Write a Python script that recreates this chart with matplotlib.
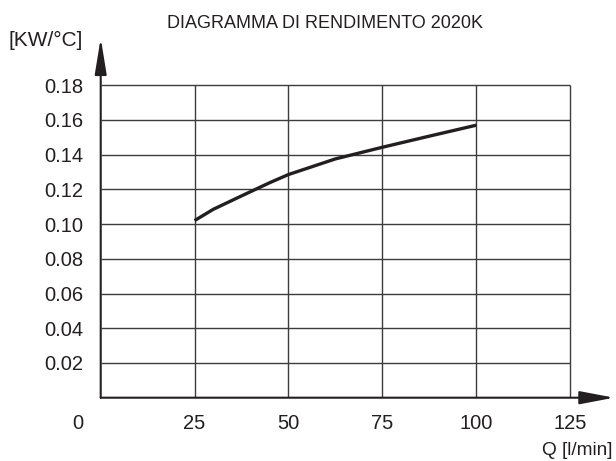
import numpy as np
import matplotlib
matplotlib.use('Agg')
import matplotlib.pyplot as plt

plt.rcParams['font.family'] = ['Liberation Sans', 'DejaVu Sans']

# performance curve
flow = [25, 30, 37.5, 45, 50, 62.5, 75, 87.5, 100]
power = [0.102, 0.1085, 0.1162, 0.1238, 0.1285, 0.1375, 0.1442, 0.1506, 0.1569]

x_ticks = [25, 50, 75, 100, 125]
y_ticks = [0.02, 0.04, 0.06, 0.08, 0.10, 0.12, 0.14, 0.16, 0.18]

ink = '#231f20'
grid_col = '#3c3c3c'
fs = 14.5

fig = plt.figure(figsize=(6.16, 4.61), dpi=100)
ax = fig.add_axes([0.1635, 0.1373, 0.8333, 0.7802])
ax.set_xlim(0, 136.7)
ax.set_ylim(0, 0.2071)
for s in ax.spines.values():
    s.set_visible(False)

# grid box
ax.vlines(x_ticks, 0, y_ticks[-1], color=grid_col, lw=1.0, zorder=1)
ax.hlines(y_ticks, 0, x_ticks[-1], color=grid_col, lw=1.0, zorder=1)

# axes with arrows
ax.annotate('', xy=(0, 0.2071), xytext=(0, 0), xycoords='data',
            arrowprops=dict(arrowstyle='-|>,head_length=22,head_width=3.6',
                            mutation_scale=1, lw=1.5, color=ink,
                            shrinkA=0, shrinkB=0), annotation_clip=False)
ax.annotate('', xy=(136.7, 0), xytext=(0, 0), xycoords='data',
            arrowprops=dict(arrowstyle='-|>,head_length=21,head_width=4.0',
                            mutation_scale=1, lw=1.5, color=ink,
                            shrinkA=0, shrinkB=0), annotation_clip=False)

ax.plot(flow, power, color=ink, lw=2.4, solid_capstyle='butt', zorder=3)

ax.set_xticks(x_ticks)
ax.set_xticklabels([str(v) for v in x_ticks])
ax.set_yticks(y_ticks)
ax.set_yticklabels(['%.2f' % v for v in y_ticks])
ax.tick_params(axis='both', length=0, labelsize=fs, colors=ink)
ax.tick_params(axis='x', pad=11.5)
ax.tick_params(axis='y', pad=12.8)

# the origin label sits left of the axis
ax.annotate('0', xy=(0, 0), xytext=(-12.8, -11.5), textcoords='offset points',
            ha='right', va='top', fontsize=fs, color=ink)

fig.text(325 / 616, 1 - 23 / 461, 'DIAGRAMMA DI RENDIMENTO 2020K',
         ha='center', va='center', fontsize=13, color=ink)
fig.text(46 / 616, 1 - 40 / 461, '[KW/°C]', ha='center', va='center',
         fontsize=15, color=ink)
fig.text(613 / 616, 1 - 450 / 461, 'Q [l/min]', ha='right', va='center',
         fontsize=13.7, color=ink)

fig.savefig('out.png', dpi=100)
